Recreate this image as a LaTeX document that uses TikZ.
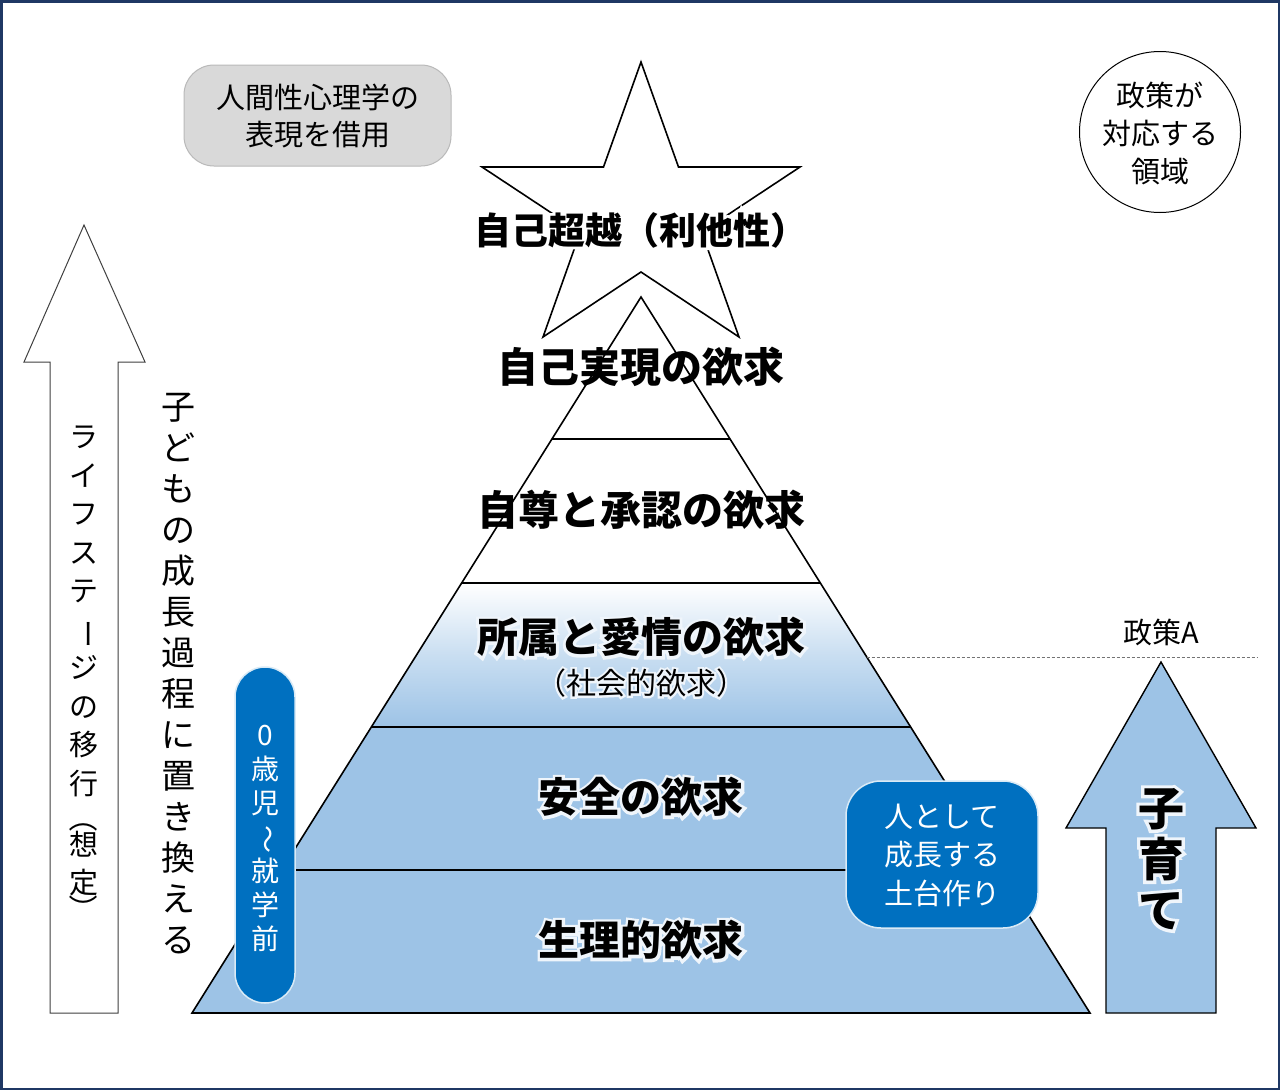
\documentclass[tikz,border=0pt]{standalone}
\usepackage{fontspec}
\setmainfont{Noto Sans CJK JP}
\newfontfamily\halofont{Noto Sans CJK JP}[FakeBold=14]
\definecolor{lblue}{RGB}{157,195,230}
\definecolor{dblue}{RGB}{0,112,192}
\definecolor{frame}{RGB}{31,56,100}
\definecolor{boxgray}{RGB}{217,217,217}
\definecolor{boxedge}{RGB}{185,185,185}
\newcommand{\vrot}[1]{\rotatebox[origin=c]{-90}{#1}}
\tikzset{
  edge/.style={draw=black, line width=1.6pt},
  level/.style={font=\bfseries\fontsize{41}{45}\selectfont, inner sep=0pt},
  halo/.style={text=white!60!lblue!40!white, inner sep=0pt},
  bluebox/.style={fill=dblue, draw=white!85!dblue, line width=1.5pt, text=white, inner sep=0pt},
  vtext/.style={align=center, inner sep=0pt},
}
\begin{document}
\begin{tikzpicture}[x=1pt,y=-1pt]
\useasboundingbox (0,0) rectangle (1280,1090);
\fill[white] (0,0) rectangle (1280,1090);
\draw[frame, line width=2.5pt] (1.25,1.25) rectangle (1278.75,1088.75);

% pyramid coordinates
\coordinate (apex) at (641,297);
\coordinate (bl) at (192,1013);
\coordinate (br) at (1090,1013);
\coordinate (l1) at (551.95,439);  \coordinate (r1) at (730.05,439);
\coordinate (l2) at (461.65,583);  \coordinate (r2) at (820.35,583);
\coordinate (l3) at (371.35,727);  \coordinate (r3) at (910.65,727);
\coordinate (l4) at (281.68,870);  \coordinate (r4) at (1000.32,870);

% fills
\shade[top color=white, bottom color=lblue, middle color=white!45!lblue] (l2) -- (r2) -- (r3) -- (l3) -- cycle;
\fill[lblue] (l3) -- (r3) -- (br) -- (bl) -- cycle;
% outlines
\draw[edge, line join=miter] (apex) -- (br) -- (bl) -- cycle;
\draw[edge] (l1) -- (r1);
\draw[edge] (l2) -- (r2);
\draw[edge] (l3) -- (r3);
\draw[edge] (l4) -- (r4);

% star
\draw[black, line width=1.6pt, line join=miter]
  (641,62) -- (678.5,167) -- (800,167) -- (701.7,232) -- (739,337) -- (641,272)
  -- (543,337) -- (580.3,232) -- (482,167) -- (603.5,167) -- cycle;

% halos (white glow behind labels)
\node[halo, text=white, font=\halofont\bfseries\fontsize{37}{41}\selectfont] (transhalo) at (641,230) {自己超越（利他性）};
\node[halo, font=\halofont\bfseries\fontsize{41}{45}\selectfont] (belonghalo) at (641,637) {所属と愛情の欲求};
\node[halo, font=\halofont\fontsize{30}{34}\selectfont] (socialhalo) at (641,683) {（社会的欲求）};
\node[halo, font=\halofont\bfseries\fontsize{41}{45}\selectfont] (safetyhalo) at (641,797) {安全の欲求};
\node[halo, font=\halofont\bfseries\fontsize{41}{45}\selectfont] (physiohalo) at (641,940) {生理的欲求};

% level labels
\node[level, font=\bfseries\fontsize{37}{41}\selectfont] (trans) at (641,230) {自己超越（利他性）};
\node[level] (self) at (641,367) {自己実現の欲求};
\node[level] (esteem) at (641,510) {自尊と承認の欲求};
\node[level] (belong) at (641,637) {所属と愛情の欲求};
\node[inner sep=0pt, font=\fontsize{30}{34}\selectfont] (social) at (641,683) {（社会的欲求）};
\node[level] (safety) at (641,797) {安全の欲求};
\node[level] (physio) at (641,940) {生理的欲求};

% gray box
\node[fill=boxgray, draw=boxedge, line width=1pt, rounded corners=30pt,
      minimum width=267pt, minimum height=101pt, inner sep=0pt] (srcbox) at (317.5,115.5) {};
\node[align=center, inner sep=0pt, font=\fontsize{29}{37}\selectfont] (srctext) at (317.5,115.5) {人間性心理学の\\表現を借用};

% circle
\node[circle, draw=black, line width=1pt, minimum size=161pt, inner sep=0pt] (policycircle) at (1160,132) {};
\node[align=center, inner sep=0pt, font=\fontsize{29}{38}\selectfont] (policytext) at (1160,133) {政策が\\対応する\\領域};

% left white arrow
\draw[black!75, line width=1pt, fill=white, line join=miter]
  (50,1013) -- (50,362) -- (24,362) -- (84,225) -- (145,362) -- (118,362) -- (118,1013) -- cycle;
\node[vtext, font=\fontsize{29}{38.5}\selectfont] (lifestage) at (84,675)
  {ラ\\イ\\フ\\ス\\テ\\\vrot{ー}\\ジ\\の\\移\\行\\[-4pt]\vrot{（}\\[-12pt]想\\定\\[-12pt]\vrot{）}};

% vertical caption
\node[vtext, font=\fontsize{34}{41}\selectfont] (growth) at (178,673.5)
  {子\\ど\\も\\の\\成\\長\\過\\程\\に\\置\\き\\換\\え\\る};

% age pill
\node[bluebox, rounded corners=30pt, minimum width=60pt, minimum height=336pt] (agepill) at (265,835) {};
\node[vtext, text=white, font=\fontsize{28}{34}\selectfont] (agetext) at (265,838)
  {0\\歳\\児\\\vrot{～}\\就\\学\\前};

% foundation box
\node[bluebox, rounded corners=35pt, minimum width=192pt, minimum height=147pt] (foundbox) at (942,854.5) {};
\node[align=left, text=white, inner sep=0pt, font=\fontsize{29}{38.5}\selectfont] (foundtext) at (942,855)
  {人として\\成長する\\土台作り};

% right arrow
\draw[black, line width=1.4pt, fill=lblue, line join=miter]
  (1106,1013) -- (1106,828) -- (1066,828) -- (1161,662) -- (1256,828) -- (1216,828) -- (1216,1013) -- cycle;
\node[vtext, halo, font=\halofont\bfseries\fontsize{46}{51}\selectfont] (childcarehalo) at (1161,859) {子\\育\\て};
\node[vtext, font=\bfseries\fontsize{46}{51}\selectfont] (childcare) at (1161,859) {子\\育\\て};

% policy A
\node[inner sep=0pt, font=\fontsize{29}{32}\selectfont] (policyA) at (1161,632) {政策A};
\coordinate (dashstart) at (866.7,657);
\coordinate (dashend) at (1258,657);
\draw[black!55, line width=0.8pt, dash pattern=on 3pt off 2pt] (dashstart) -- (dashend);
\end{tikzpicture}
\end{document}
